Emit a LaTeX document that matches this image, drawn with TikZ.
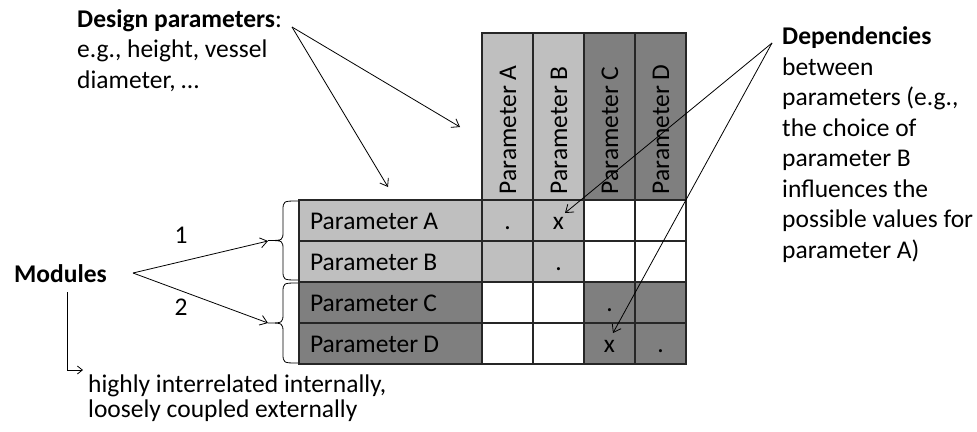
\documentclass[tikz,border=0pt]{standalone}
\usepackage{fontspec}
\setmainfont{Carlito}
\usetikzlibrary{arrows.meta}
\definecolor{lgray}{HTML}{BFBFBF}
\definecolor{dgray}{HTML}{7F7F7F}
\newcommand\prmname[1]{Parameter\kern0.2em #1}
\begin{document}
\begin{tikzpicture}[x=1pt,y=-1pt,
  every node/.style={font=\fontsize{25.5}{30.5}\selectfont},
  cell/.style={draw=black!85, line width=1.3pt, minimum width=51pt, minimum height=41pt,
    inner sep=0pt, text height=17pt, text depth=0pt, anchor=center},
  rowcell/.style={cell, minimum width=183pt, text width=161pt, inner xsep=11pt, align=left},
  colcell/.style={cell, rotate=90, minimum width=167pt, minimum height=51pt,
    text width=155pt, inner xsep=6pt, align=left},
  blk/.style={anchor=north west, inner sep=0pt, align=left},
  arr/.style={line width=0.8pt, -{Straight Barb[length=7pt,width=10pt]}},
  brace/.style={line width=0.8pt}]
\useasboundingbox (0,0) rectangle (977,431);

% column headers
\node[colcell, fill=lgray] (hA) at (507.5,116.5) {\prmname{A}};
\node[colcell, fill=lgray] (hB) at (558.5,116.5) {\prmname{B}};
\node[colcell, fill=dgray] (hC) at (609.5,116.5) {\prmname{C}};
\node[colcell, fill=dgray] (hD) at (660.5,116.5) {\prmname{D}};

% row headers
\node[rowcell, fill=lgray] (rA) at (390.5,220.5) {\prmname{A}};
\node[rowcell, fill=lgray] (rB) at (390.5,261.5) {\prmname{B}};
\node[rowcell, fill=dgray] (rC) at (390.5,302.5) {\prmname{C}};
\node[rowcell, fill=dgray] (rD) at (390.5,343.5) {\prmname{D}};

% matrix cells
\node[cell, fill=lgray] (AA) at (507.5,220.5) {.};
\node[cell, fill=lgray] (AB) at (558.5,220.5) {x};
\node[cell, fill=white] (AC) at (609.5,220.5) {};
\node[cell, fill=white] (AD) at (660.5,220.5) {};
\node[cell, fill=lgray] (BA) at (507.5,261.5) {};
\node[cell, fill=lgray] (BB) at (558.5,261.5) {.};
\node[cell, fill=white] (BC) at (609.5,261.5) {};
\node[cell, fill=white] (BD) at (660.5,261.5) {};
\node[cell, fill=white] (CA) at (507.5,302.5) {};
\node[cell, fill=white] (CB) at (558.5,302.5) {};
\node[cell, fill=dgray] (CC) at (609.5,302.5) {.};
\node[cell, fill=dgray] (CD) at (660.5,302.5) {};
\node[cell, fill=white] (DA) at (507.5,343.5) {};
\node[cell, fill=white] (DB) at (558.5,343.5) {};
\node[cell, fill=dgray] (DC) at (609.5,343.5) {x};
\node[cell, fill=dgray] (DD) at (660.5,343.5) {.};

% braces
\draw[brace] (298,201) .. controls (283,201) .. (283,211) -- (283,231)
  .. controls (283,240.5) .. (268,240.5) .. controls (283,240.5) .. (283,250)
  -- (283,270) .. controls (283,280) .. (298,280);
\draw[brace] (298,283) .. controls (283,283) .. (283,293) -- (283,313)
  .. controls (283,323) .. (268,323) .. controls (283,323) .. (283,333)
  -- (283,353) .. controls (283,363) .. (298,363);

% texts
\node[blk] (design) at (77,7) {\rule{0pt}{20pt}\textbf{Design parameters}:\\ e.g., height, vessel\\ diameter, \dots};
\node[blk] (deps) at (782,24.5) {\rule{0pt}{20pt}\textbf{Dependencies}\\ between\\ parameters (e.g.,\\ the choice of\\ parameter B\\ influences the\\ possible values for\\ parameter A)};
\node[anchor=base west, inner sep=0pt] (modules) at (14,282) {\textbf{Modules}};
\node[blk, font=\fontsize{25.5}{25.5}\selectfont] (note) at (88,372) {\rule{0pt}{20pt}highly interrelated internally,\\ loosely coupled externally};
\node[anchor=base, inner sep=0pt] (one) at (181,243) {1};
\node[anchor=base, inner sep=0pt] (two) at (181,315) {2};

% connector points
\coordinate (dpApex) at (292,27);
\coordinate (dpT1) at (460,127);
\coordinate (dpT2) at (388,187);
\coordinate (depApex) at (772,43);
\coordinate (depT1) at (565,213);
\coordinate (depT2) at (613,333);
\coordinate (modApex) at (133,273);
\coordinate (modT1) at (268,241);
\coordinate (modT2) at (268,323);
\coordinate (modDown) at (67,292);
\coordinate (modCorner) at (67,370);
\coordinate (modEnd) at (83,370);

% connectors
\draw[arr] (dpApex) -- (dpT1);
\draw[arr] (dpApex) -- (dpT2);
\draw[arr] (depApex) -- (depT1);
\draw[arr] (depApex) -- (depT2);
\draw[arr] (modApex) -- (modT1);
\draw[arr] (modApex) -- (modT2);
\draw[line width=0.8pt, -{Straight Barb[length=5pt,width=8pt]}] (modDown) -- (modCorner) -- (modEnd);
\end{tikzpicture}
\end{document}
